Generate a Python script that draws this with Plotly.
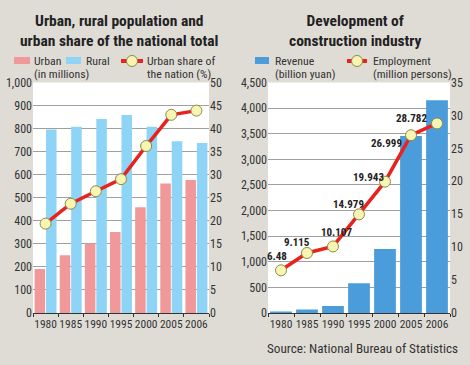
import plotly.graph_objects as go

years = ["1980", "1985", "1990", "1995", "2000", "2005", "2006"]
urban = [191.4, 250.9, 301.9, 351.7, 459.1, 562.1, 577.1]
rural = [795.7, 807.6, 841.4, 859.5, 808.4, 745.4, 737.4]
urban_share = [19.39, 23.71, 26.41, 29.04, 36.22, 42.99, 43.90]

revenue = [28.7, 67.0, 134.5, 579.3, 1249.8, 3455.2, 4155.7]
employment = [6.48, 9.115, 10.107, 14.979, 19.943, 26.999, 28.782]
employment_labels = ["6.48", "9.115", "10.107", "14.979", "19.943", "26.999", "28.782"]

left_ticks = [0, 100, 200, 300, 400, 500, 600, 700, 800, 900, 1000]
left_ticktext = ["0", "100", "200", "300", "400", "500", "600", "700", "800", "900", "1,000"]
right_ticks = [0, 5, 10, 15, 20, 25, 30, 35, 40, 45, 50]
rev_ticks = [0, 500, 1000, 1500, 2000, 2500, 3000, 3500, 4000, 4500]
rev_ticktext = ["0", "500", "1,000", "1,500", "2,000", "2,500", "3,000", "3,500", "4,000", "4,500"]
emp_ticks = [0, 5, 10, 15, 20, 25, 30, 35]

W, H = 470, 365
BG = "#dfdcd6"
PINK = "#f0989a"
LBLUE = "#8ed4f6"
DBLUE = "#4b9cda"
RED = "#e8231e"
MFILL = "#f8f4b2"
MLINE = "#8c8a4a"
TFONT = "Liberation Sans Narrow, Roboto Condensed, Arial Narrow, Liberation Sans, sans-serif"
TEXT = "#333333"

def px(x):
    return x / W

def py(y):
    return 1 - y / H

fig = go.Figure()

fig.add_trace(go.Bar(x=years, y=urban, marker=dict(color=PINK, line=dict(width=0)),
                     xaxis="x", yaxis="y", showlegend=False, offsetgroup="u"))
fig.add_trace(go.Bar(x=years, y=rural, marker=dict(color=LBLUE, line=dict(width=0)),
                     xaxis="x", yaxis="y", showlegend=False, offsetgroup="r"))
fig.add_trace(go.Scatter(x=years, y=urban_share, mode="lines+markers",
                         line=dict(color=RED, width=3.5),
                         marker=dict(size=11, color=MFILL, line=dict(color=MLINE, width=1)),
                         xaxis="x", yaxis="y2", showlegend=False))

fig.add_trace(go.Bar(x=years, y=revenue, marker=dict(color=DBLUE, line=dict(width=0)),
                     xaxis="x2", yaxis="y3", showlegend=False))
fig.add_trace(go.Scatter(x=years, y=employment, mode="lines+markers",
                         line=dict(color=RED, width=3.5),
                         marker=dict(size=11, color=MFILL, line=dict(color=MLINE, width=1)),
                         xaxis="x2", yaxis="y4", showlegend=False))

ydom = [py(313), py(82.5)]
tickfont = dict(family=TFONT, size=12, color=TEXT)
xtickfont = dict(family=TFONT, size=11.5, color=TEXT)
xcommon = dict(type="category", tickfont=xtickfont, tickangle=0, automargin=False,
               showline=True, linecolor="#333", linewidth=1.2,
               ticks="outside", tickson="boundaries", ticklen=3, tickcolor="#333",
               showgrid=False, range=[-0.5, 6.5])

fig.update_layout(
    width=W, height=H,
    margin=dict(l=0, r=0, t=0, b=0, autoexpand=False),
    paper_bgcolor=BG, plot_bgcolor="white",
    showlegend=False,
    barmode="group", bargap=0.09, bargroupgap=0.08,
    xaxis=dict(domain=[px(33), px(209)], anchor="y", **xcommon),
    yaxis=dict(domain=ydom, anchor="x", range=[0, 1000], tickvals=left_ticks, ticktext=left_ticktext,
               tickfont=tickfont, showgrid=True, gridcolor="#a0a0a0", gridwidth=1,
               zeroline=False, ticks="", automargin=False),
    yaxis2=dict(overlaying="y", side="right", anchor="x", range=[0, 50], tickvals=right_ticks,
                tickfont=tickfont, showgrid=False, zeroline=False, automargin=False),
    xaxis2=dict(domain=[px(268), px(450)], anchor="y3", **xcommon),
    yaxis3=dict(domain=ydom, anchor="x2", range=[0, 4500], tickvals=rev_ticks, ticktext=rev_ticktext,
                tickfont=tickfont, showgrid=True, gridcolor="#a0a0a0", gridwidth=1,
                zeroline=False, automargin=False),
    yaxis4=dict(overlaying="y3", side="right", anchor="x2", range=[0, 35], tickvals=emp_ticks,
                tickfont=tickfont, showgrid=False, zeroline=False, automargin=False),
)

annotations = []
title_font = dict(family=TFONT, size=15.5, color="#222")
for txt, x in [("<b>Urban, rural population and<br>urban share of the national total</b>", 119.5),
               ("<b>Development of<br>construction industry</b>", 355)]:
    annotations.append(dict(text=txt, x=px(x), y=py(30.5), xref="paper", yref="paper",
                            xanchor="center", yanchor="middle", align="center",
                            showarrow=False, font=title_font))

leg_font = dict(family=TFONT, size=11.8, color=TEXT)
for txt, x, y in [("Urban", 32, 61), ("(in millions)", 32, 74), ("Rural", 84, 61),
                  ("Urban share of", 145, 61), ("the nation (%)", 145, 74),
                  ("Revenue", 273, 61), ("(billion yuan)", 273, 74),
                  ("Employment", 371, 61), ("(million persons)", 371, 74)]:
    annotations.append(dict(text=txt, x=px(x), y=py(y), xref="paper", yref="paper",
                            xanchor="left", yanchor="middle", showarrow=False, font=leg_font))

annotations.append(dict(text="Source: National Bureau of Statistics", x=px(460), y=py(348),
                        xref="paper", yref="paper", xanchor="right", yanchor="middle",
                        showarrow=False, font=dict(family=TFONT, size=13.2, color=TEXT)))

shifts = [(-4, 14), (-10, 10), (3, 14), (-11, 10), (-17, 4), (-25, -8), (-26, 5)]
for i, (val, lab, (dx, dy)) in enumerate(zip(employment, employment_labels, shifts)):
    annotations.append(dict(text="<b>" + lab + "</b>", x=i, y=val, xref="x2", yref="y4",
                            xshift=dx, yshift=dy, showarrow=False,
                            font=dict(family=TFONT, size=11, color="#222")))

fig.update_layout(annotations=annotations)

shapes = []
for x0, x1, c in [(14, 30, PINK), (66, 81, LBLUE), (255, 269, DBLUE)]:
    shapes.append(dict(type="rect", xref="paper", yref="paper", x0=px(x0), x1=px(x1),
                       y0=py(64), y1=py(57), fillcolor=c, line=dict(width=0)))
for x0, x1 in [(121, 143), (347, 367)]:
    shapes.append(dict(type="line", xref="paper", yref="paper", x0=px(x0), x1=px(x1),
                       y0=py(61), y1=py(61), line=dict(color=RED, width=4)))
    cx = (x0 + x1) / 2
    shapes.append(dict(type="circle", xref="paper", yref="paper", x0=px(cx - 5.5), x1=px(cx + 5.5),
                       y0=py(66.5), y1=py(55.5), fillcolor=MFILL, line=dict(color=MLINE, width=1)))
fig.update_layout(shapes=shapes)

fig.write_html("out.html", config={"displayModeBar": False},
               post_script="document.body.style.margin='0px';document.body.style.background='" + BG + "';")
